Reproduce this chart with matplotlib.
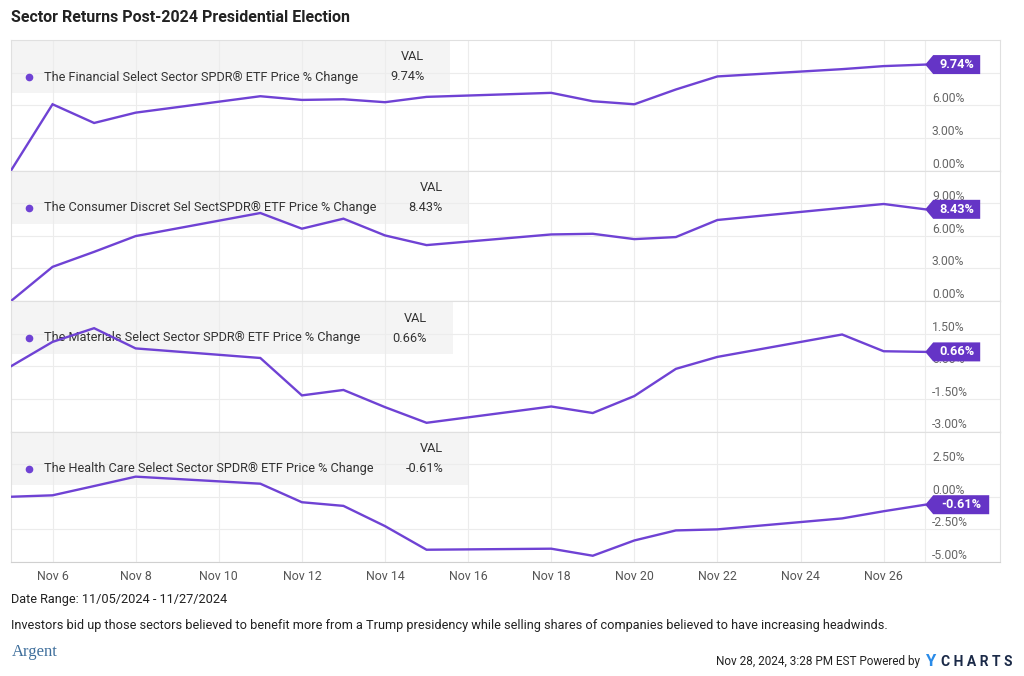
import numpy as np
import pandas as pd
import matplotlib
matplotlib.use("Agg")
import matplotlib.pyplot as plt
import matplotlib.dates as mdates
import matplotlib.transforms as mtransforms
from matplotlib.patches import Rectangle, Polygon

plt.rcParams['font.family'] = ['Roboto', 'DejaVu Sans']

days = ["2024-11-05", "2024-11-06", "2024-11-07", "2024-11-08", "2024-11-11",
        "2024-11-12", "2024-11-13", "2024-11-14", "2024-11-15", "2024-11-18",
        "2024-11-19", "2024-11-20", "2024-11-21", "2024-11-22", "2024-11-25",
        "2024-11-26", "2024-11-27"]

financials = [0.00, 6.09, 4.37, 5.32, 6.83, 6.49, 6.55, 6.28, 6.77, 7.14,
              6.37, 6.09, 7.45, 8.65, 9.32, 9.60, 9.74]
consumer = [0.00, 3.14, 4.52, 5.97, 8.09, 6.65, 7.57, 6.03, 5.14, 6.12,
            6.18, 5.69, 5.88, 7.45, 8.56, 8.92, 8.43]
materials = [0.00, 1.12, 1.75, 0.82, 0.38, -1.34, -1.09, -1.88, -2.60, -1.85,
             -2.15, -1.37, -0.12, 0.43, 1.46, 0.69, 0.66]
healthcare = [0.00, 0.11, 0.82, 1.54, 1.00, -0.42, -0.70, -2.25, -4.06, -3.98,
              -4.52, -3.35, -2.58, -2.50, -1.66, -1.11, -0.61]

names = ["The Financial Select Sector SPDR\u00ae ETF Price % Change",
         "The Consumer Discret Sel SectSPDR\u00ae ETF Price % Change",
         "The Materials Select Sector SPDR\u00ae ETF Price % Change",
         "The Health Care Select Sector SPDR\u00ae ETF Price % Change"]
series = [financials, consumer, materials, healthcare]
ylims = [(0, 12), (0, 12), (-3, 3), (-5, 5)]
yticks = [[0, 3, 6, 9], [0, 3, 6, 9], [-3, -1.5, 0, 1.5], [-5, -2.5, 0, 2.5]]
# tick labels hidden under the value tag in the reference
ylabels = [[0, 3, 6], [0, 3, 6, 9], [-3, -1.5, 0, 1.5], [-5, -2.5, 0, 2.5]]

title = "Sector Returns Post-2024 Presidential Election"
date_range = "Date Range: 11/05/2024 - 11/27/2024"
note = ("Investors bid up those sectors believed to benefit more from a Trump presidency "
        "while selling shares of companies believed to have increasing headwinds.")
stamp = "Nov 28, 2024, 3:28 PM EST Powered by"

purple = '#6f42d4'
tag_col = '#6534c6'
grid_col = '#ececec'

W, H = 1024, 676
fig = plt.figure(figsize=(W / 100, H / 100), dpi=100)
# pixel coords, origin top-left
pix = mtransforms.Affine2D().scale(1 / W, -1 / H).translate(0, 1) + fig.transFigure
px_off = mtransforms.Affine2D().scale(1 / 100) + fig.dpi_scale_trans

dates = pd.to_datetime(days)
left, right = 11, 1000
top0, ph = 40, 130.5
xmax = dates[-1] + pd.Timedelta(days=1.8)
even_days = pd.date_range("2024-11-06", "2024-11-26", freq="2D")

renderer = fig.canvas.get_renderer()
fs = 9.2
for i, vals in enumerate(series):
    top = top0 + i * ph
    ax = fig.add_axes([left / W, 1 - (top + ph) / H, (right - left) / W, ph / H])
    ax.plot(dates, vals, color=purple, lw=1.7, zorder=4, solid_joinstyle='miter')
    ax.set_xlim(dates[0], xmax)
    ax.set_ylim(*ylims[i])
    ax.set_yticks(yticks[i])
    ax.set_xticks(even_days)
    ax.grid(True, color=grid_col, lw=0.8, zorder=0)
    ax.axvline(dates[-1], color=grid_col, lw=0.8, zorder=0)
    ax.tick_params(length=0, labelleft=False, labelbottom=(i == 3),
                   labelsize=8.9, labelcolor='#555555', pad=6)
    for s in ['top', 'left', 'right']:
        ax.spines[s].set_color('#e0e0e0')
    ax.spines['bottom'].set_color('#d0d0d0')
    if i == 3:
        ax.xaxis.set_major_formatter(mdates.DateFormatter('%b %-d'))

    lbl_tr = mtransforms.blended_transform_factory(ax.transAxes, ax.transData)
    for t in ylabels[i]:
        ax.text((932 - left) / (right - left), t, "%.2f%%" % t, transform=lbl_tr,
                ha='left', va='bottom', fontsize=8.7, color='#666666', zorder=2)

    # legend block
    name_t = ax.text(44, top + 37, names[i], transform=pix, ha='left', va='center',
                     fontsize=fs, color='#333333', zorder=2)
    ext = name_t.get_window_extent(renderer)
    vx = ext.x1 + 32
    last = vals[-1]
    val_t = ax.text(vx, top + 37, "%.2f%%" % last, transform=pix, ha='left',
                    va='center', fontsize=fs, color='#333333', zorder=2)
    vext = val_t.get_window_extent(renderer)
    ax.text(vext.x1, top + 17, "VAL", transform=pix, ha='right', va='center',
            fontsize=fs, color='#333333', zorder=2)
    ax.add_patch(Rectangle((left, top), vext.x1 + 26 - left, 53, transform=pix,
                           facecolor='#f4f4f4', edgecolor='none', zorder=1))
    ax.plot([29], [top + 37], 'o', ms=4.5, color=purple, transform=pix, zorder=2)

    # value tag
    tw = 55 if last >= 0 else 64
    tr = px_off + mtransforms.ScaledTranslation(mdates.date2num(dates[-1]), last, ax.transData)
    ax.add_patch(Polygon([(0, 0), (8, 9.5), (tw, 9.5), (tw, -9.5), (8, -9.5)],
                         closed=True, transform=tr, facecolor=tag_col,
                         edgecolor='none', zorder=6, clip_on=False))
    ax.annotate("%.2f%%" % last, xy=(dates[-1], last), xytext=(8 + (tw - 8) / 2, 0),
                textcoords='offset pixels', ha='center', va='center', color='white',
                fontsize=9.2, fontweight='bold', zorder=7, annotation_clip=False)

fig.text(11, 18, title, transform=pix, ha='left', va='center', fontsize=11.5,
         fontweight='bold', color='#222222')
fig.text(11, 600, date_range, transform=pix, ha='left', va='center', fontsize=fs,
         color='#222222')
fig.text(11, 626, note, transform=pix, ha='left', va='center', fontsize=fs,
         color='#222222')
fig.text(12, 652, "Argent", transform=pix, ha='left', va='center', fontsize=12,
         family='Liberation Serif', color='#3f6f9c')
fig.text(920, 662, stamp, transform=pix, ha='right', va='center', fontsize=8.5,
         color='#222222')
fig.text(925, 662, "Y", transform=pix, ha='left', va='center', fontsize=12,
         fontweight='bold', color='#2a8be8')
fig.text(941, 662, "C H A R T S", transform=pix, ha='left', va='center', fontsize=10,
         fontweight='bold', color='#1b2a48')

fig.savefig("out.png", dpi=100)
